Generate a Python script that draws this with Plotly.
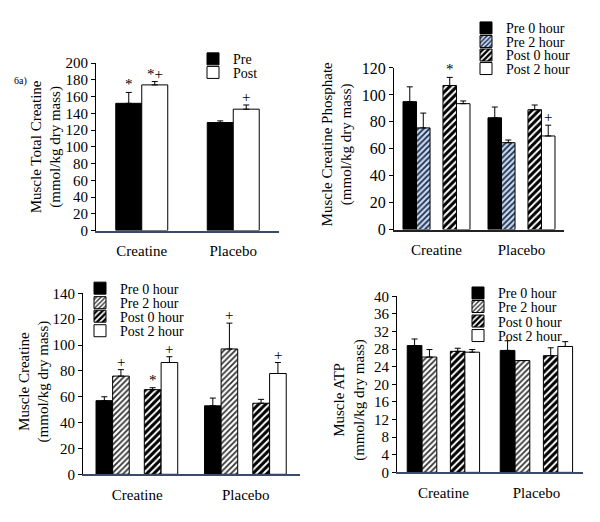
import plotly.graph_objects as go

groups = ["Creatine", "Placebo"]

# ---- Panel a: Muscle total creatine ----
tc_names = ["Pre", "Post"]
tc_pre = [152, 129]
tc_pre_err = [13, 2]
tc_post = [174, 145]
tc_post_err = [4, 5]

# ---- Panel b: Muscle creatine phosphate ----
series4 = ["Pre 0 hour", "Pre 2 hour", "Post 0 hour", "Post 2 hour"]
pcr_pre0 = [95, 83]
pcr_pre0_err = [11, 8]
pcr_pre2 = [75.5, 64.5]
pcr_pre2_err = [11, 2]
pcr_post0 = [107, 89]
pcr_post0_err = [6, 3.5]
pcr_post2 = [93.5, 69.5]
pcr_post2_err = [2, 8]

# ---- Panel c: Muscle creatine ----
cr_pre0 = [57, 53]
cr_pre0_err = [3, 6]
cr_pre2 = [76, 97]
cr_pre2_err = [5, 20]
cr_post0 = [65.5, 55]
cr_post0_err = [1.5, 3]
cr_post2 = [86.5, 78]
cr_post2_err = [4.5, 8.5]

# ---- Panel d: Muscle ATP ----
atp_pre0 = [28.8, 27.7]
atp_pre0_err = [1.5, 2.2]
atp_pre2 = [26.2, 25.4]
atp_pre2_err = [1.7, 0]
atp_post0 = [27.5, 26.5]
atp_post0_err = [0.7, 1.8]
atp_post2 = [27.3, 28.6]
atp_post2_err = [0.6, 1.1]

# significance marks: (panel, series index, group index, symbol)
sig_marks = [
    (1, 0, 0, "*"), (1, 1, 0, "*+"), (1, 1, 1, "+"),
    (2, 2, 0, "*"), (2, 3, 1, "+"),
    (3, 1, 0, "+"), (3, 2, 0, "*"), (3, 3, 0, "+"), (3, 1, 1, "+"), (3, 3, 1, "+"),
]

FONT = "Liberation Serif"

panels = {
    1: dict(names=tc_names, means=[tc_pre, tc_post], errs=[tc_pre_err, tc_post_err],
            width=0.284, offsets=[-0.284, 0.0], dom_x=(96, 279), dom_y=(57, 230),
            yrange=(0, 200), dtick=20, tickfont=15,
            title="Muscle Total Creatine<br>(mmol/kg dry mass)", title_xy=(46, 144), title_size=15,
            leg_x=212, leg_y=[53, 67], leg_font=14, xline="#3b4a6b"),
    2: dict(names=series4, means=[pcr_pre0, pcr_pre2, pcr_post0, pcr_post2],
            errs=[pcr_pre0_err, pcr_pre2_err, pcr_post0_err, pcr_post2_err],
            width=0.159, offsets=[-0.394, -0.235, 0.076, 0.235], dom_x=(394, 564), dom_y=(62, 229),
            yrange=(0, 120), dtick=20, tickfont=16,
            title="Muscle Creatine Phosphate<br>(mmol/kg dry mass)", title_xy=(337, 141), title_size=15,
            leg_x=485, leg_y=[21, 35, 49, 63], leg_font=14, xline="#222222"),
    3: dict(names=series4, means=[cr_pre0, cr_pre2, cr_post0, cr_post2],
            errs=[cr_pre0_err, cr_pre2_err, cr_post0_err, cr_post2_err],
            width=0.153, offsets=[-0.38, -0.227, 0.065, 0.22], dom_x=(83, 300), dom_y=(295, 482),
            yrange=(0, 140), dtick=20, tickfont=15,
            title="Muscle Creatine<br>(mmol/kg dry mass)", title_xy=(34, 386), title_size=15,
            leg_x=99, leg_y=[290, 305, 319, 334], leg_font=14, xline="#3b4a6b"),
    4: dict(names=series4, means=[atp_pre0, atp_pre2, atp_post0, atp_post2],
            errs=[atp_pre0_err, atp_pre2_err, atp_post0_err, atp_post2_err],
            width=0.158, offsets=[-0.39, -0.23, 0.074, 0.23], dom_x=(397, 583), dom_y=(298, 480),
            yrange=(0, 40), dtick=4, tickfont=15,
            title="Muscle ATP<br>(mmol/kg dry mass)", title_xy=(350, 405), title_size=15,
            leg_x=477, leg_y=[295, 309, 324, 339], leg_font=14, xline="#3b4a6b"),
}

W, H = 600, 522

def style_for(panel, name):
    if name in ("Pre", "Pre 0 hour"):
        return dict(color="black", pattern=None)
    if name in ("Post", "Post 2 hour"):
        return dict(color="white", pattern=None)
    if name == "Pre 2 hour":
        if panel == 2:
            return dict(color="#c9daf0", pattern=dict(shape="/", fgcolor="#1c2c4c", bgcolor="#c9daf0",
                                                       size=4, solidity=0.45, fillmode="replace"))
        return dict(color="white", pattern=dict(shape="/", fgcolor="#333333", bgcolor="white",
                                                 size=4, solidity=0.45, fillmode="replace"))
    # Post 0 hour
    return dict(color="black", pattern=dict(shape="/", fgcolor="white", bgcolor="black",
                                             size=5, solidity=0.4, fillmode="replace"))

fig = go.Figure()
layout = dict(width=W, height=H, margin=dict(l=0, r=0, t=0, b=0), plot_bgcolor="white",
              paper_bgcolor="white", barmode="overlay", font=dict(family=FONT, color="black"))
annotations = []
leg_count = 0

for p, cfg in panels.items():
    xa = "x" if p == 1 else f"x{p}"
    ya = "y" if p == 1 else f"y{p}"
    for i, name in enumerate(cfg["names"]):
        leg_count += 1
        leg_key = "legend" if leg_count == 1 else f"legend{leg_count}"
        st = style_for(p, name)
        marker = dict(color=st["color"], line=dict(color="black", width=1))
        if st["pattern"] is not None:
            marker["pattern"] = st["pattern"]
        fig.add_trace(go.Bar(
            x=[0, 1], y=cfg["means"][i], name=name, xaxis=xa, yaxis=ya,
            width=cfg["width"], offset=cfg["offsets"][i], marker=marker,
            error_y=dict(type="data", array=cfg["errs"][i], arrayminus=[0, 0], symmetric=False,
                         color="black", thickness=1, width=3),
            legend=leg_key, showlegend=True,
        ))
        layout[leg_key] = dict(x=(cfg["leg_x"] - 19) / W, xanchor="left",
                               y=1 - cfg["leg_y"][i] / H, yanchor="middle",
                               bgcolor="rgba(0,0,0,0)", borderwidth=0,
                               font=dict(family=FONT, size=cfg["leg_font"], color="black"),
                               itemclick=False, itemdoubleclick=False)
    x0, x1 = cfg["dom_x"]
    y0, y1 = cfg["dom_y"]
    xkey = "xaxis" if p == 1 else f"xaxis{p}"
    ykey = "yaxis" if p == 1 else f"yaxis{p}"
    layout[xkey] = dict(domain=[x0 / W, x1 / W], range=[-0.5, 1.5], anchor=ya,
                        tickvals=[0, 1], ticktext=groups, showgrid=False, zeroline=False,
                        showline=True, linecolor=cfg["xline"], linewidth=1.5, ticks="",
                        ticklabelstandoff=6,
                        tickfont=dict(family=FONT, size=15, color="black"), fixedrange=True)
    layout[ykey] = dict(domain=[1 - y1 / H, 1 - y0 / H], range=list(cfg["yrange"]), anchor=xa,
                        dtick=cfg["dtick"], showgrid=False, zeroline=False, showline=True,
                        linecolor="black", linewidth=1, ticks="outside", ticklen=4,
                        tickcolor="black", tickfont=dict(family=FONT, size=cfg["tickfont"], color="black"),
                        fixedrange=True)
    tx, ty = cfg["title_xy"]
    annotations.append(dict(text=cfg["title"], x=tx / W, y=1 - ty / H, xref="paper", yref="paper",
                            textangle=-90, showarrow=False, xanchor="center", yanchor="middle",
                            font=dict(family=FONT, size=cfg["title_size"], color="black")))

for p, si, gi, sym in sig_marks:
    cfg = panels[p]
    xa = "x" if p == 1 else f"x{p}"
    ya = "y" if p == 1 else f"y{p}"
    xc = gi + cfg["offsets"][si] + cfg["width"] / 2
    yv = cfg["means"][si][gi] + cfg["errs"][si][gi]
    annotations.append(dict(text=sym, x=xc, y=yv, xref=xa, yref=ya, showarrow=False,
                            xanchor="center", yanchor="bottom", yshift=-2,
                            font=dict(family=FONT, size=15, color="black")))

annotations.append(dict(text="6a)", x=12 / W, y=1 - 75 / H, xref="paper", yref="paper",
                        showarrow=False, xanchor="left", yanchor="middle",
                        font=dict(family=FONT, size=10, color="black")))

layout["annotations"] = annotations
fig.update_layout(**layout)
fig.write_html("out.html", config={"displayModeBar": False},
               post_script="document.body.style.margin='0';document.body.style.padding='0';")
